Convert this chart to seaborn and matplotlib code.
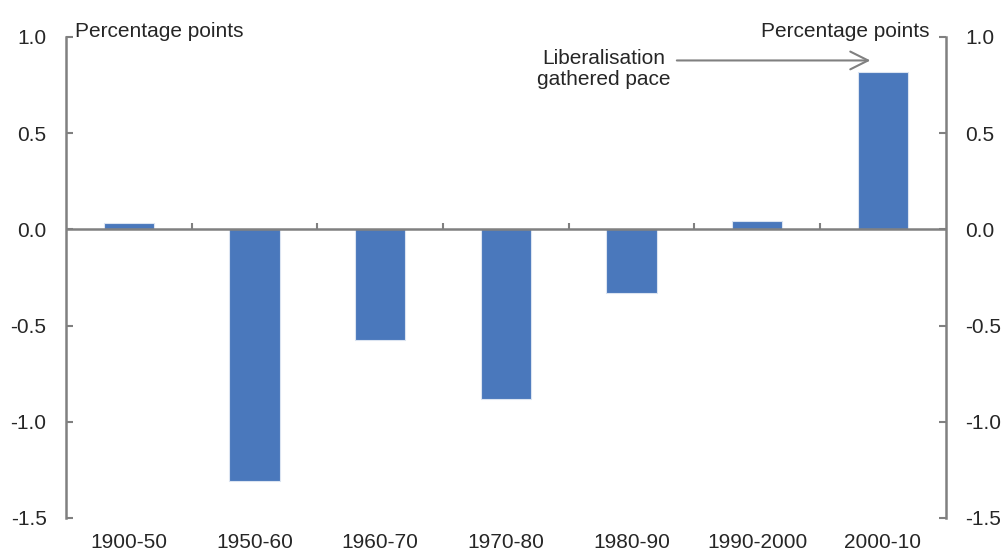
import pandas as pd
import matplotlib
matplotlib.use("Agg")
import matplotlib.pyplot as plt
import seaborn as sns
import numpy as np

# Data
periods = ["1900-50", "1950-60", "1960-70", "1970-80", "1980-90", "1990-2000", "2000-10"]
changes = [0.035, -1.31, -0.575, -0.88, -0.33, 0.045, 0.82]

y_ticks = [-1.5, -1.0, -0.5, 0.0, 0.5, 1.0]
y_min, y_max = -1.5, 1.0

sns.set_theme(style="white")
plt.rcParams["font.family"] = ["Liberation Sans", "DejaVu Sans"]

grey = "#808080"
bar_color = "#4a78bc"
fs = 15

df = pd.DataFrame({"period": periods, "change": changes})

fig = plt.figure(figsize=(10.02, 5.52), dpi=100)
ax = fig.add_axes([0.0659, 0.0616, 0.878, 0.8714])

sns.barplot(data=df, x="period", y="change", color=bar_color, width=0.4,
            saturation=1, edgecolor="#dbe4f1", linewidth=0.8, ax=ax)

ax.set_ylim(y_min, y_max)
ax.set_xlim(-0.5, len(periods) - 0.5)
ax.set_xlabel("")
ax.set_ylabel("")
ax.set_yticks(y_ticks)
ax.set_yticklabels([f"{v:.1f}" for v in y_ticks], fontsize=fs)
ax.tick_params(axis="y", direction="in", length=5, width=1.5, color=grey, pad=14)
ax.tick_params(axis="x", length=0, pad=11, labelsize=fs)

for side in ["top", "bottom", "right"]:
    ax.spines[side].set_visible(False)
ax.spines["left"].set_color(grey)
ax.spines["left"].set_linewidth(1.8)

# right axis mirrors left
ax2 = ax.twinx()
ax2.set_ylim(y_min, y_max)
ax2.set_yticks(y_ticks)
ax2.set_yticklabels([f"{v:.1f}" for v in y_ticks], fontsize=fs)
ax2.tick_params(axis="y", direction="in", length=5, width=1.5, color=grey, pad=14)
for side in ["top", "bottom", "left"]:
    ax2.spines[side].set_visible(False)
ax2.spines["right"].set_color(grey)
ax2.spines["right"].set_linewidth(1.8)
ax2.grid(False)

# zero line with small separator ticks between categories
ax.axhline(0, color=grey, lw=1.8, zorder=3)
seps = np.arange(len(periods) - 1) + 0.5
ax.vlines(seps, 0, 0.035, color=grey, lw=1.5, zorder=3)

ax.text(0.01, 0.992, "Percentage points", transform=ax.transAxes,
        fontsize=fs, ha="left", va="bottom")
ax.text(0.982, 0.992, "Percentage points", transform=ax.transAxes,
        fontsize=fs, ha="right", va="bottom")

ax.text(3.78, 0.835, "Liberalisation\ngathered pace", fontsize=fs,
        ha="center", va="center", linespacing=1.15)
ax.annotate("", xy=(5.9, 0.878), xytext=(4.36, 0.878),
            arrowprops=dict(arrowstyle="->", color=grey, lw=1.5,
                            mutation_scale=32, shrinkA=0, shrinkB=0))

fig.savefig("out.png", dpi=100)
